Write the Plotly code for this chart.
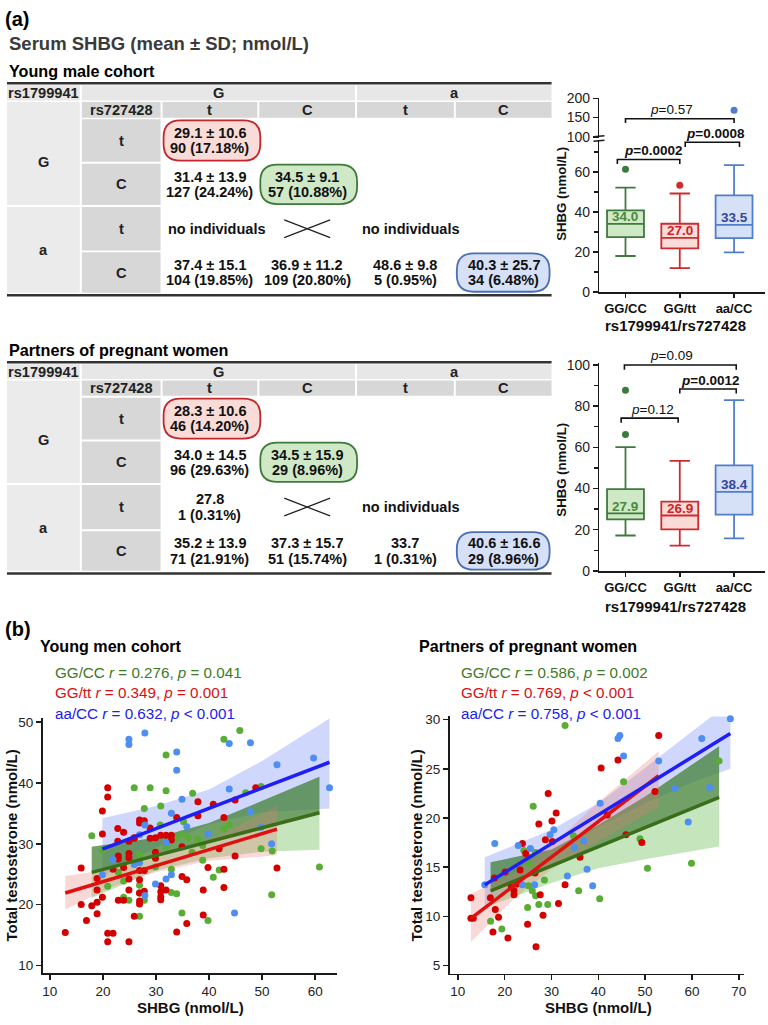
import plotly.graph_objects as go

W, H = 768, 1025
FONT = "Liberation Sans, Arial, Helvetica, sans-serif"

# ======================= DATA =======================
rs1799941_alleles = ["G", "a"]
rs727428_alleles = ["t", "C", "t", "C"]
row_rs727428 = ["t", "C", "t", "C"]

young_cells = [
    ["29.1 ± 10.6|90 (17.18%)", "", "", ""],
    ["31.4 ± 13.9|127 (24.24%)", "34.5 ± 9.1|57 (10.88%)", "", ""],
    ["no individuals", "CROSS", "no individuals", ""],
    ["37.4 ± 15.1|104 (19.85%)", "36.9 ± 11.2|109 (20.80%)", "48.6 ± 9.8|5 (0.95%)", "40.3 ± 25.7|34 (6.48%)"],
]
partner_cells = [
    ["28.3 ± 10.6|46 (14.20%)", "", "", ""],
    ["34.0 ± 14.5|96 (29.63%)", "34.5 ± 15.9|29 (8.96%)", "", ""],
    ["27.8|1 (0.31%)", "CROSS", "no individuals", ""],
    ["35.2 ± 13.9|71 (21.91%)", "37.3 ± 15.7|51 (15.74%)", "33.7|1 (0.31%)", "40.6 ± 16.6|29 (8.96%)"],
]
highlighted = {(0, 0): "GG/tt", (1, 1): "GG/CC", (3, 3): "aa/CC"}

groups = ["GG/CC", "GG/tt", "aa/CC"]

young_q1 = [27.4, 21.8, 26.9]
young_median = [34.0, 27.0, 33.5]
young_q3 = [40.8, 34.1, 48.3]
young_whisker_low = [18.0, 12.0, 19.8]
young_whisker_high = [52.1, 49.2, 63.4]
young_outliers = [[61.3], [53.3], [169.0]]
young_p_values = ["0.0002", "0.0008", "0.57"]
young_p_bold = [True, True, False]

partner_q1 = [25.0, 20.2, 27.3]
partner_median = [27.9, 26.9, 38.4]
partner_q3 = [39.7, 33.6, 51.2]
partner_whisker_low = [17.2, 12.3, 15.8]
partner_whisker_high = [60.1, 53.4, 82.9]
partner_outliers = [[66.2, 87.7], [], []]
partner_p_values = ["0.12", "0.0012", "0.09"]
partner_p_bold = [False, True, False]

# ---- scatter: young men cohort ----
young_gc_x = [45.8, 42.8, 31.9, 25.9, 28.9, 31.9, 36.9, 46.9, 49.8, 27.8, 30.9, 35.2, 17.9, 19.9, 26.9, 30.8,
              34.9, 33.8, 36.1, 37.9, 38.8, 36.8, 31.9, 43.8, 42.8, 49.8, 51.9, 41.9, 40.8, 32.9, 29.9, 22.9,
              26.9, 26.9, 27.8, 24.9, 23.9, 20.9, 26.9, 34.9, 39.8, 32.9, 33.9, 51.8, 60.8, 38.8, 23.9]
young_gc_y = [48.6, 47.2, 44.6, 39.2, 39.2, 38.7, 38.3, 38.4, 39.4, 35.8, 36.2, 33.6, 31.3, 28.9, 28.2, 33.1,
              31.6, 31.0, 31.0, 30.8, 29.7, 28.6, 29.5, 33.1, 32.4, 29.2, 28.8, 25.7, 24.5, 25.8, 26.2, 25.3,
              23.2, 21.9, 20.7, 20.7, 21.2, 23.0, 18.1, 18.6, 17.4, 22.0, 21.8, 21.6, 26.2, 27.3, 23.9]
young_gt_x = [12.9, 15.9, 15.9, 16.9, 17.9, 18.9, 18.9, 18.9, 18.9, 19.9,
              19.9, 19.9, 20.9, 20.9, 20.9, 20.9, 21.9, 21.9, 22.8, 22.8,
              22.9, 22.9, 22.9, 23.9, 23.9, 23.9, 24.9, 24.9, 24.9, 24.9,
              24.9, 24.9, 25.9, 25.9, 26.9, 26.9, 26.9, 26.9, 26.9, 26.9,
              27.8, 27.8, 27.8, 28.9, 28.9, 29.9, 29.9, 29.9, 30.9, 30.9,
              30.9, 30.9, 30.9, 31.9, 31.9, 32.9, 32.9, 33.9, 33.9, 34.9,
              34.9, 35.8, 35.8, 37.9, 37.9, 38.9, 38.9, 39.8, 40.8, 41.9,
              42.8, 42.8, 42.8, 44.9, 44.9, 48.8, 52.8, 26.9, 25.9]
young_gt_y = [15.4, 26.0, 20.0, 17.4, 19.8, 20.4, 18.5, 22.4, 24.3, 21.2,
              31.6, 35.4, 39.2, 37.7, 15.3, 13.9, 15.3, 25.8, 32.5, 30.4,
              28.0, 27.5, 20.7, 31.9, 26.1, 20.7, 30.4, 28.4, 27.7, 24.2,
              22.4, 13.9, 30.9, 18.1, 33.9, 33.4, 25.6, 24.1, 20.1, 21.9,
              33.8, 25.6, 22.2, 32.6, 30.9, 31.0, 28.6, 27.6, 31.4, 23.1,
              22.1, 21.3, 20.8, 31.4, 22.4, 31.4, 30.6, 34.3, 15.5, 29.5,
              24.6, 24.1, 16.9, 36.9, 34.6, 22.4, 18.3, 26.1, 36.5, 29.2,
              34.3, 25.8, 22.8, 37.2, 28.0, 39.2, 26.0, 20.6, 31.0]
young_ac_x = [57.7, 24.9, 24.9, 27.9, 33.9, 33.9, 43.8, 47.8, 59.7, 52.8, 62.7, 43.8, 34.9, 32.9, 47.8, 35.8,
              27.9, 39.8, 31.9, 49.8, 51.8, 21.9, 25.9, 26.9, 19.9, 32.9, 31.9, 29.9, 27.9, 44.8, 26.9]
young_ac_y = [53.6, 47.2, 46.3, 48.2, 45.1, 42.1, 46.5, 46.6, 44.1, 43.0, 39.2, 39.0, 37.3, 35.0, 35.3, 32.8,
              33.1, 31.6, 30.2, 32.7, 30.0, 27.4, 26.6, 26.9, 24.9, 24.9, 24.2, 23.4, 21.5, 18.6, 31.5]

young_fit_x = {"GG/CC": [17.9, 60.8], "GG/tt": [12.9, 52.8], "aa/CC": [19.9, 62.7]}
young_fit_y = {"GG/CC": [25.3, 35.1], "GG/tt": [21.9, 32.4], "aa/CC": [29.1, 43.4]}
young_band_x = {"GG/CC": [17.9, 30, 40, 50, 60.8], "GG/tt": [12.9, 22, 30, 40, 52.8],
                "aa/CC": [19.9, 30, 40, 50, 62.7]}
young_band_lo = {"GG/CC": [21.1, 25.6, 27.6, 28.7, 29.0], "GG/tt": [19.2, 23.0, 25.3, 27.2, 28.1],
                 "aa/CC": [24.6, 29.4, 33.2, 35.2, 35.8]}
young_band_hi = {"GG/CC": [29.5, 31.0, 33.4, 37.0, 41.0], "GG/tt": [24.7, 25.9, 27.6, 30.6, 36.2],
                 "aa/CC": [34.2, 36.2, 38.9, 43.6, 50.6]}
young_r = ["0.276", "0.349", "0.632"]
young_p = ["= 0.041", "= 0.001", "&lt; 0.001"]

# ---- scatter: partners of pregnant women ----
partner_gc_x = [32.9, 26.1, 45.4, 65.8, 34.7, 48.9, 24.1, 25.3, 26.6, 50.5, 59.9, 25.1, 28.5, 25.9, 26.6,
                35.8, 40.3, 29.2, 24.9, 17.0, 19.4, 27.3]
partner_gc_y = [29.4, 21.2, 23.7, 25.8, 18.2, 17.9, 16.7, 15.3, 16.5, 14.9, 15.4, 13.1, 13.7, 12.6, 12.1,
                12.6, 11.8, 11.2, 10.9, 9.5, 8.7, 11.2]
partner_gt_x = [52.9, 44.2, 40.6, 29.3, 52.1, 41.9, 31.0, 30.1, 27.3, 28.7,
                30.2, 45.9, 49.3, 23.8, 24.5, 36.1, 20.1, 23.3, 17.8, 26.5,
                22.6, 21.4, 22.0, 22.0, 32.9, 27.6, 31.5, 12.8, 16.95, 12.8,
                13.3, 18.0, 18.7, 28.2, 17.5, 24.9, 20.7, 26.7]
partner_gt_y = [28.4, 25.9, 25.1, 22.5, 22.7, 20.3, 20.5, 19.7, 19.4, 17.8,
                17.6, 18.3, 17.5, 17.4, 16.4, 16.0, 14.5, 14.7, 13.9, 14.4,
                13.3, 13.0, 12.6, 12.2, 13.2, 12.2, 11.3, 11.9, 11.9, 9.8,
                9.8, 10.7, 9.9, 10.1, 8.4, 9.2, 7.8, 6.9]
partner_ac_x = [68.2, 44.6, 44.2, 62.1, 45.4, 52.9, 56.4, 63.8, 40.4, 59.2, 30.5, 29.7, 17.9, 22.9, 25.5,
                34.9, 36.9, 33.4, 37.6, 38.8, 26.4, 23.8, 15.75]
partner_ac_y = [30.1, 28.4, 28.1, 28.1, 26.3, 25.8, 23.0, 23.1, 21.5, 19.6, 18.8, 18.3, 17.4, 17.2, 16.9,
                17.0, 17.7, 14.1, 14.8, 13.1, 13.2, 13.2, 13.2]

partner_fit_x = {"GG/CC": [17.0, 65.8], "GG/tt": [12.8, 52.9], "aa/CC": [15.75, 68.2]}
partner_fit_y = {"GG/CC": [12.6, 22.1], "GG/tt": [9.8, 24.3], "aa/CC": [13.2, 28.6]}
partner_band_x = {"GG/CC": [17.0, 30, 40, 50, 65.8], "GG/tt": [12.8, 22, 30, 40, 52.9],
                  "aa/CC": [15.75, 30, 40, 50, 60, 68.2]}
partner_band_lo = {"GG/CC": [11.1, 13.4, 14.9, 15.8, 17.1], "GG/tt": [7.4, 11.8, 14.8, 17.6, 21.1],
                   "aa/CC": [11.1, 16.0, 19.1, 21.5, 23.6, 25.0]}
partner_band_hi = {"GG/CC": [15.5, 16.8, 19.3, 22.2, 27.3], "GG/tt": [12.3, 14.4, 17.2, 21.6, 26.8],
                   "aa/CC": [16.0, 18.8, 21.5, 25.1, 28.8, 31.8]}
partner_r = ["0.586", "0.769", "0.758"]
partner_p = ["= 0.002", "&lt; 0.001", "&lt; 0.001"]

# ======================= STYLE =======================
cell_fill = {"GG/tt": "#f9dcd7", "GG/CC": "#cfe9c7", "aa/CC": "#d6e0f7"}
cell_border = {"GG/tt": "#c1272d", "GG/CC": "#3f7a3a", "aa/CC": "#4a6fb5"}
box_line = {"GG/CC": "#3d7a3d", "GG/tt": "#cf2a2f", "aa/CC": "#4f7fcc"}
box_label = {"GG/CC": "#4a8a3a", "GG/tt": "#cf1f2a", "aa/CC": "#34479a"}
pt_color = {"GG/CC": "#5aad34", "GG/tt": "#d40000", "aa/CC": "#4d8ef0"}
fit_color = {"GG/CC": "#3b6e1b", "GG/tt": "#e01010", "aa/CC": "#1f1ff5"}
band_color = {"GG/CC": "rgba(110,190,90,0.40)", "GG/tt": "rgba(235,120,110,0.28)",
              "aa/CC": "rgba(110,130,245,0.32)"}
band_dark_green = "rgba(45,105,35,0.55)"
stat_color = {"GG/CC": "#3f7a25", "GG/tt": "#d81010", "aa/CC": "#1c1cf0"}
LIGHT, DARK = "#e7e7e7", "#d7d7d7"
AX = "#1a1a1a"
CELL_FS = 14.5
HEAD_FS = 14.6
TITLE_FS = 16.2


def X(px):
    return px / W


def Y(py):
    return 1 - py / H


fig = go.Figure()
shapes, anns = [], []


def txt(x, y, s, size=14, color="#111", bold=False, xa="center", ya="middle", angle=0,
        xref="x", yref="y", yshift=0):
    anns.append(dict(x=x, y=y, xref=xref, yref=yref, text=f"<b>{s}</b>" if bold else s,
                     showarrow=False, xanchor=xa, yanchor=ya, textangle=angle, yshift=yshift,
                     font=dict(family=FONT, size=size, color=color)))


def rect(x0, y0, x1, y1, fill):
    shapes.append(dict(type="rect", xref="x", yref="y", x0=x0, y0=y0, x1=x1, y1=y1,
                       fillcolor=fill, line=dict(width=0)))


def seg(x0, y0, x1, y1, color="#222", width=1.5, xref="x", yref="y"):
    shapes.append(dict(type="line", xref=xref, yref=yref, x0=x0, y0=y0, x1=x1, y1=y1,
                       line=dict(color=color, width=width)))


def pill(x0, y0, x1, y1, r, fill, border):
    p = (f"M{x0+r},{y0} L{x1-r},{y0} Q{x1},{y0} {x1},{y0+r} L{x1},{y1-r} Q{x1},{y1} {x1-r},{y1} "
         f"L{x0+r},{y1} Q{x0},{y1} {x0},{y1-r} L{x0},{y0+r} Q{x0},{y0} {x0+r},{y0} Z")
    shapes.append(dict(type="path", xref="x", yref="y", path=p, fillcolor=fill,
                       line=dict(color=border, width=1.8)))


# canvas axes (pixel coordinates)
fig.add_trace(go.Scatter(x=[0], y=[0], mode="markers", marker=dict(opacity=0), xaxis="x", yaxis="y",
                         hoverinfo="skip", showlegend=False))

# ======================= TABLES =======================
COLS = [(7, 80), (82, 161), (163, 258), (260, 356), (358, 455), (457, 553)]


def mid(a):
    return (a[0] + a[1]) / 2


def draw_table(title, title_y, top, h1, h2, rows, bottom, cells):
    txt(7, title_y, title, TITLE_FS, "#000", True, xa="left")
    seg(7, top, 553, top, "#333", 2.5)
    rect(COLS[0][0], h1[0], COLS[0][1], h1[1], LIGHT)
    txt(mid(COLS[0]), mid(h1), "rs1799941", HEAD_FS, "#222", True)
    rect(COLS[1][0], h1[0], COLS[3][1], h1[1], LIGHT)
    txt((COLS[1][0] + COLS[3][1]) / 2, mid(h1), rs1799941_alleles[0], HEAD_FS, "#222", True)
    rect(COLS[4][0], h1[0], COLS[5][1], h1[1], LIGHT)
    txt((COLS[4][0] + COLS[5][1]) / 2, mid(h1), rs1799941_alleles[1], HEAD_FS, "#222", True)
    rect(COLS[1][0], h2[0], COLS[1][1], h2[1], DARK)
    txt(mid(COLS[1]), mid(h2), "rs727428", HEAD_FS, "#222", True)
    for j in range(4):
        c = COLS[2 + j]
        rect(c[0], h2[0], c[1], h2[1], DARK)
        txt(mid(c), mid(h2), rs727428_alleles[j], HEAD_FS, "#222", True)
    rect(COLS[0][0], h2[0], COLS[0][1], rows[1][1], "#ebebeb")
    txt(mid(COLS[0]), (rows[0][0] + rows[1][1]) / 2, rs1799941_alleles[0], HEAD_FS, "#222", True)
    rect(COLS[0][0], rows[2][0], COLS[0][1], rows[3][1], "#ebebeb")
    txt(mid(COLS[0]), (rows[2][0] + rows[3][1]) / 2, rs1799941_alleles[1], HEAD_FS, "#222", True)
    for i, (y0, y1) in enumerate(rows):
        cy = (y0 + y1) / 2
        rect(COLS[1][0], y0, COLS[1][1], y1, DARK)
        txt(mid(COLS[1]), cy, row_rs727428[i], HEAD_FS, "#222", True)
        for j in range(4):
            s = cells[i][j]
            c = COLS[2 + j]
            cx = mid(c)
            if (i, j) in highlighted:
                g = highlighted[(i, j)]
                pill(c[0] + 1, y0 + 1, min(c[0] + 98, 551), y1 - 1, 17, cell_fill[g], cell_border[g])
            if s == "CROSS":
                seg(cx - 23, cy - 9, cx + 23, cy + 9, "#222", 1.3)
                seg(cx - 23, cy + 9, cx + 23, cy - 9, "#222", 1.3)
            elif s == "no individuals":
                txt(c[0] + 3, cy, s, CELL_FS, "#111", True, xa="left")
            elif s:
                l1, l2 = s.split("|")
                txt(cx, cy - 7.8, l1, CELL_FS, "#111", True)
                txt(cx, cy + 7.8, l2, CELL_FS, "#111", True)
    seg(7, bottom, 553, bottom, "#333", 2.5)


txt(3, 12, "(a)", 20, "#000", True, xa="left")
txt(7, 37, "Serum SHBG (mean ± SD; nmol/L)", 18.5, "#3a3a3a", True, xa="left")
draw_table("Young male cohort", 65, 77.5, (79.5, 95), (96.5, 112.5),
           [(114, 157), (159, 201), (203, 247), (249, 290)], 292.5, young_cells)
draw_table("Partners of pregnant women", 348, 360.5, (362.5, 377.5), (379, 394.5),
           [(396.5, 439), (441, 483), (485, 530), (532, 572)], 575, partner_cells)


# ======================= BOX PLOTS =======================
def draw_box(xa, ya, ya_up, q1, med, q3, lo, hi, outl, pvals, pbold, brackets):
    for i, g in enumerate(groups):
        fig.add_trace(go.Box(x=[i], q1=[q1[i]], median=[med[i]], q3=[q3[i]], lowerfence=[lo[i]],
                             upperfence=[hi[i]], width=0.68, whiskerwidth=0.55,
                             fillcolor=cell_fill[g], line=dict(color=box_line[g], width=1.8),
                             boxpoints=False, xaxis=xa, yaxis=ya, hoverinfo="skip", showlegend=False))
        lo_o = [v for v in outl[i] if v < 95]
        hi_o = [v for v in outl[i] if v >= 95]
        if lo_o:
            fig.add_trace(go.Scatter(x=[i] * len(lo_o), y=lo_o, mode="markers", xaxis=xa, yaxis=ya,
                                     marker=dict(color=box_line[g], size=7), cliponaxis=False,
                                     hoverinfo="skip", showlegend=False))
        if hi_o and ya_up:
            fig.add_trace(go.Scatter(x=[i] * len(hi_o), y=hi_o, mode="markers", xaxis=xa, yaxis=ya_up,
                                     marker=dict(color=box_line[g], size=7), cliponaxis=False,
                                     hoverinfo="skip", showlegend=False))
        txt(i, med[i], f"{med[i]:.1f}", 13.5, box_label[g], True, xref=xa, yref=ya, yshift=7)
    for k, (x0, x1, yb, drop, axis, lx) in enumerate(brackets):
        yref = ya if axis == "low" else ya_up
        shapes.append(dict(type="path", xref=xa, yref=yref,
                           path=f"M{x0},{yb-drop} L{x0},{yb} L{x1},{yb} L{x1},{yb-drop}",
                           line=dict(color="#111", width=1.6)))
        s = f"<i>p</i>={pvals[k]}"
        txt(lx, yb, s, 13.5, "#111", pbold[k], xref=xa, yref=yref, yshift=9)


draw_box("x2", "y2", "y3", young_q1, young_median, young_q3, young_whisker_low, young_whisker_high,
         young_outliers, young_p_values, young_p_bold,
         [(-0.15, 1.0, 66.2, 2.3, "low", 0.5), (1.1, 2.1, 74.8, 2.4, "low", 1.65),
          (0.0, 2.0, 147, 11, "up", 0.85)])
draw_box("x3", "y4", None, partner_q1, partner_median, partner_q3, partner_whisker_low,
         partner_whisker_high, partner_outliers, partner_p_values, partner_p_bold,
         [(-0.08, 0.97, 74.2, 2.2, "low", 0.49), (1.0, 2.04, 88.3, 2.2, "low", 1.56),
          (-0.02, 2.04, 100.0, 2.3, "low", 0.85)])

# axis break marks
seg(595, 131.7, 606, 130.7, AX, 1.5)
seg(595, 136.2, 606, 135.2, AX, 1.5)

txt(563, 190, "SHBG (nmol/L)", 13.2, "#111", True, angle=-90)
txt(563, 470, "SHBG (nmol/L)", 13.2, "#111", True, angle=-90)
txt(677, 323.5, "rs1799941/rs727428", 15, "#111", True)
txt(677, 608, "rs1799941/rs727428", 15, "#111", True)

# ======================= SCATTERS =======================
young_pts = {"GG/CC": (young_gc_x, young_gc_y), "GG/tt": (young_gt_x, young_gt_y),
             "aa/CC": (young_ac_x, young_ac_y)}
partner_pts = {"GG/CC": (partner_gc_x, partner_gc_y), "GG/tt": (partner_gt_x, partner_gt_y),
               "aa/CC": (partner_ac_x, partner_ac_y)}


def draw_scatter(xa, ya, pts, fx, fy, bx, blo, bhi, rs, ps, tx):
    for g in ["aa/CC", "GG/CC", "GG/tt"]:
        fig.add_trace(go.Scatter(x=bx[g] + bx[g][::-1], y=bhi[g] + blo[g][::-1], mode="lines",
                                 fill="toself", fillcolor=band_color[g], line=dict(width=0),
                                 xaxis=xa, yaxis=ya, hoverinfo="skip", showlegend=False))
        if g == "GG/CC":
            fig.add_trace(go.Scatter(x=bx[g] + fx[g][::-1], y=bhi[g] + fy[g][::-1], mode="lines",
                                     fill="toself", fillcolor=band_dark_green, line=dict(width=0),
                                     xaxis=xa, yaxis=ya, hoverinfo="skip", showlegend=False))
    for g in groups:
        fig.add_trace(go.Scatter(x=pts[g][0], y=pts[g][1], mode="markers", xaxis=xa, yaxis=ya,
                                 marker=dict(color=pt_color[g], size=7), cliponaxis=False,
                                 hoverinfo="skip", showlegend=False))
    for g in ["GG/CC", "GG/tt", "aa/CC"]:
        fig.add_trace(go.Scatter(x=fx[g], y=fy[g], mode="lines", line=dict(color=fit_color[g], width=3.5),
                                 xaxis=xa, yaxis=ya, hoverinfo="skip", showlegend=False))
    for k, g in enumerate(groups):
        txt(tx, 675 + 21 * k, f"{g} <i>r</i> = {rs[k]}, <i>p</i> {ps[k]}", 15.2, stat_color[g], xa="left")


draw_scatter("x4", "y5", young_pts, young_fit_x, young_fit_y, young_band_x, young_band_lo, young_band_hi,
             young_r, young_p, 53)
draw_scatter("x5", "y6", partner_pts, partner_fit_x, partner_fit_y, partner_band_x, partner_band_lo,
             partner_band_hi, partner_r, partner_p, 460)

txt(3, 631, "(b)", 20, "#000", True, xa="left")
txt(38, 648, "Young men cohort", 16.1, "#000", True, xa="left")
txt(418, 648, "Partners of pregnant women", 16.1, "#000", True, xa="left")
txt(191, 1015, "SHBG (nmol/L)", 15, "#111", True)
txt(600, 1015, "SHBG (nmol/L)", 15, "#111", True)
txt(12, 851, "Total testosterone (nmol/L)", 15, "#111", True, angle=-90)
txt(418, 851, "Total testosterone (nmol/L)", 15, "#111", True, angle=-90)


# ======================= LAYOUT =======================
def axis(domain, rng, anchor, fs=14, **kw):
    d = dict(domain=domain, range=rng, anchor=anchor, showline=True, linecolor=AX, linewidth=1.6,
             ticks="outside", ticklen=5, tickwidth=1.5, tickcolor=AX, showgrid=False, zeroline=False,
             tickfont=dict(family=FONT, size=fs, color="#222"), fixedrange=True)
    d.update(kw)
    return d


box_ticks = dict(tickmode="array", tickvals=[0, 1, 2], ticktext=[f"<b>{g}</b>" for g in groups],
                 tickfont=dict(family=FONT, size=13, color="#111"), ticklen=4)

fig.update_layout(
    width=W, height=H, autosize=False, margin=dict(l=0, r=0, t=0, b=0),
    paper_bgcolor="white", plot_bgcolor="rgba(0,0,0,0)", showlegend=False,
    font=dict(family=FONT),
    xaxis=dict(domain=[0, 1], range=[0, W], visible=False, fixedrange=True),
    yaxis=dict(domain=[0, 1], range=[H, 0], visible=False, fixedrange=True),
    xaxis2=axis([X(601), X(767)], [-0.48, 2.57], "y2", **box_ticks),
    yaxis2=axis([Y(289.3), Y(136)], [0, 75.4], "x2", tick0=0, dtick=20,
                minor=dict(ticks="outside", ticklen=4, tickwidth=1.4, tickcolor=AX, dtick=10, tick0=0)),
    yaxis3=axis([Y(133), Y(92)], [96.7, 201.8], "x2", tickmode="array", tickvals=[100, 150, 200]),
    xaxis3=axis([X(601), X(767)], [-0.48, 2.57], "y4", **box_ticks),
    yaxis4=axis([Y(572.3), Y(361.2)], [0, 101], "x3", tick0=0, dtick=20,
                minor=dict(ticks="outside", ticklen=4, tickwidth=1.4, tickcolor=AX, dtick=10, tick0=0)),
    xaxis4=axis([X(42.7), X(338.3)], [8.63, 64.19], "y5", fs=13.5, tick0=10, dtick=10),
    yaxis5=axis([Y(980.7), Y(721.7)], [8.70, 50.65], "x4", fs=13.5, tick0=10, dtick=10),
    xaxis5=axis([X(450.7), X(746.3)], [8.23, 71.19], "y6", fs=13.5, tick0=10, dtick=10),
    yaxis6=axis([Y(981), Y(720)], [4.17, 30.33], "x5", fs=13.5, tick0=5, dtick=5),
    shapes=shapes, annotations=anns,
)

fig.write_html("out.html", config={"displayModeBar": False, "staticPlot": True},
               post_script="document.body.style.margin='0px';document.body.style.overflow='hidden';")
